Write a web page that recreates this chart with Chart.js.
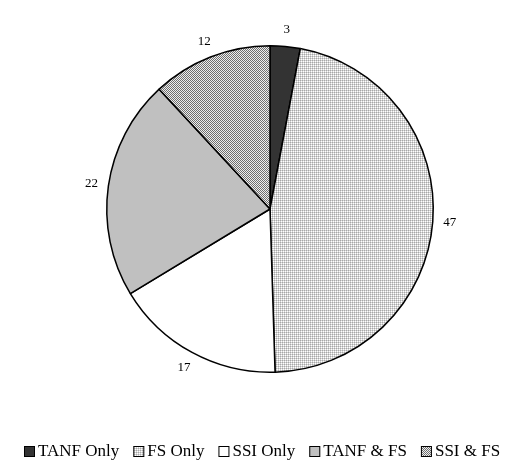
<!DOCTYPE html>
<html>
<head>
<meta charset="utf-8">
<script src="https://cdn.jsdelivr.net/npm/chart.js@4"></script>
<style>
  html, body { margin: 0; padding: 0; background: #fff; }
  #wrap { width: 524px; height: 468px; }
</style>
</head>
<body>
<div id="wrap"><canvas id="pie" width="524" height="468"></canvas></div>
<script>
const categories = ['TANF Only', 'FS Only', 'SSI Only', 'TANF & FS', 'SSI & FS'];
const shares = [3, 47, 17, 22, 12];

const serif = '"Liberation Serif", "Times New Roman", serif';

// small tiled fills like the old office-style hatches
function makePattern(size, paint) {
  const c = document.createElement('canvas');
  c.width = size; c.height = size;
  const g = c.getContext('2d');
  paint(g);
  return g.createPattern(c, 'repeat');
}

const gridFill = makePattern(2, g => {
  g.fillStyle = '#ffffff'; g.fillRect(0, 0, 2, 2);
  g.fillStyle = '#a8a8a8'; g.fillRect(0, 0, 1, 1);
  g.fillStyle = '#d4d4d4'; g.fillRect(1, 0, 1, 1); g.fillRect(0, 1, 1, 1);
});
const checkFill = makePattern(2, g => {
  g.fillStyle = '#eeeeee'; g.fillRect(0, 0, 2, 2);
  g.fillStyle = '#6f6f6f'; g.fillRect(0, 0, 1, 1); g.fillRect(1, 1, 1, 1);
});

const fills = ['#333333', gridFill, '#ffffff', '#c0c0c0', checkFill];

// value labels just outside each slice
const outsideLabels = {
  id: 'outsideLabels',
  afterDatasetsDraw(chart) {
    const ctx = chart.ctx;
    const meta = chart.getDatasetMeta(0);
    ctx.save();
    ctx.font = '13px ' + serif;
    ctx.fillStyle = '#000';
    ctx.textAlign = 'center';
    ctx.textBaseline = 'middle';
    meta.data.forEach((arc, i) => {
      const p = arc.getProps(['x', 'y', 'startAngle', 'endAngle', 'outerRadius'], true);
      const mid = (p.startAngle + p.endAngle) / 2;
      const r = p.outerRadius + 17;
      ctx.fillText(String(shares[i]), p.x + Math.cos(mid) * r, p.y + Math.sin(mid) * r);
    });
    ctx.restore();
  }
};

// one-row legend, tight box/text spacing
const rowLegend = {
  id: 'rowLegend',
  afterDraw(chart) {
    const ctx = chart.ctx;
    const box = 11, gap = 3, itemGap = 14;
    ctx.save();
    ctx.font = '17px ' + serif;
    const widths = categories.map(t => ctx.measureText(t).width);
    const total = widths.reduce((a, b) => a + b, 0) + categories.length * (box + gap) + (categories.length - 1) * itemGap;
    let x = Math.round(chart.width / 2 - total / 2);
    const y = 452;
    ctx.textBaseline = 'middle';
    ctx.textAlign = 'left';
    categories.forEach((t, i) => {
      ctx.fillStyle = fills[i];
      ctx.fillRect(x, y - 6, box, box);
      ctx.strokeStyle = '#000';
      ctx.lineWidth = 1;
      ctx.strokeRect(x + 0.5, y - 5.5, box - 1, box - 1);
      ctx.fillStyle = '#000';
      ctx.fillText(t, x + box + gap, y);
      x += box + gap + widths[i] + itemGap;
    });
    ctx.restore();
  }
};

new Chart(document.getElementById('pie').getContext('2d'), {
  type: 'pie',
  data: {
    labels: categories,
    datasets: [{
      data: shares,
      backgroundColor: fills,
      borderColor: '#000',
      borderWidth: 1.5
    }]
  },
  options: {
    responsive: false,
    animation: false,
    layout: { padding: { top: 45, bottom: 95, left: 20, right: 4 } },
    plugins: {
      legend: { display: false },
      tooltip: { enabled: false }
    }
  },
  plugins: [outsideLabels, rowLegend]
});
</script>
</body>
</html>
